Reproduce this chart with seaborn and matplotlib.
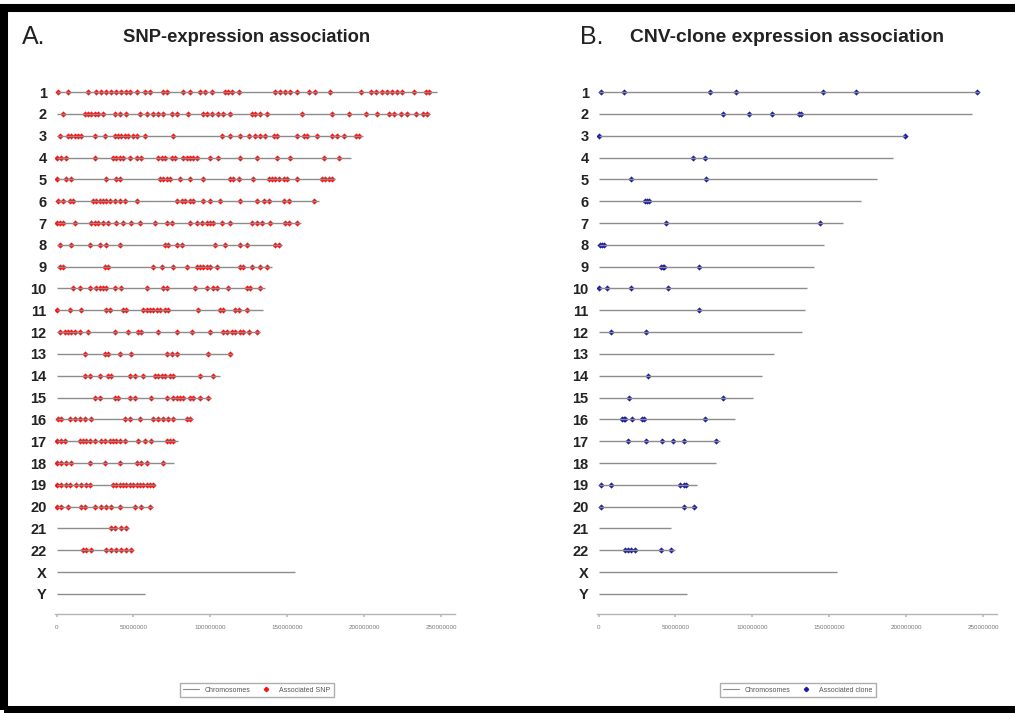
import numpy as np
import pandas as pd
import seaborn as sns
import matplotlib
matplotlib.use("Agg")
import matplotlib.pyplot as plt
from matplotlib.lines import Line2D
from matplotlib.patches import Rectangle
from matplotlib.ticker import FixedLocator, FuncFormatter

sns.set_theme(style="white")
plt.rcParams["font.family"] = ["Liberation Sans Narrow", "Liberation Sans", "DejaVu Sans"]

# Chromosome names and lengths (Mb)
chromosomes = [str(i) for i in range(1, 23)] + ["X", "Y"]
chrom_length_mb = [247.2, 242.8, 199.5, 191.3, 180.9, 170.9, 158.8, 146.3, 140.3, 135.4,
                   134.5, 132.3, 114.1, 106.4, 100.3, 88.8, 78.8, 76.1, 63.8, 62.4,
                   46.9, 49.7, 154.9, 57.8]

# Positions (Mb) of SNPs associated with expression, per chromosome
snp_mb = {
    "1": [0.9, 7.4, 20.4, 25.9, 29.1, 32.4, 35.7, 38.9, 42.2, 45.4, 47.6, 52.0, 57.4, 60.7,
          69.4, 71.5, 82.4, 86.7, 93.3, 96.5, 100.9, 109.6, 111.7, 113.9, 118.3, 142.2, 145.4,
          148.7, 152.0, 156.3, 163.9, 168.3, 178.0, 197.6, 204.1, 207.4, 211.7, 215.0, 218.3,
          221.5, 224.8, 232.4, 240.0, 242.2],
    "2": [4.1, 18.3, 20.4, 22.6, 24.8, 27.0, 30.2, 37.8, 41.1, 45.4, 54.1, 58.5, 62.8, 66.1,
          69.4, 74.8, 78.1, 85.7, 95.4, 97.6, 100.9, 105.2, 108.5, 112.8, 127.0, 129.1, 132.4,
          136.7, 159.6, 179.1, 190.0, 200.9, 208.5, 216.1, 219.4, 223.7, 228.1, 233.5, 238.0, 241.0],
    "3": [2.0, 7.4, 9.6, 11.7, 13.9, 16.1, 24.8, 31.3, 37.8, 40.0, 42.2, 44.4, 46.5, 49.8, 52.0,
          57.4, 75.9, 107.4, 112.8, 119.4, 124.8, 129.1, 132.4, 135.7, 141.1, 143.3, 156.3, 160.7,
          162.8, 169.4, 179.1, 182.4, 186.8, 194.4, 196.5],
    "4": [0.5, 3.1, 6.3, 24.8, 36.8, 38.9, 41.1, 43.3, 47.6, 52.0, 55.2, 66.1, 68.3, 70.4, 74.8,
          77.0, 82.4, 84.6, 86.7, 88.9, 91.1, 99.8, 105.2, 119.4, 130.2, 143.3, 152.0, 173.7, 183.5],
    "5": [0.5, 6.3, 9.6, 32.4, 38.9, 41.1, 67.2, 69.4, 71.5, 73.7, 80.2, 86.7, 95.4, 112.8, 115.0,
          118.3, 128.0, 137.8, 140.0, 142.2, 144.4, 147.6, 149.8, 156.3, 172.6, 174.8, 177.0, 179.1],
    "6": [0.9, 4.1, 8.5, 10.7, 23.7, 25.9, 28.0, 30.2, 32.4, 34.6, 37.8, 41.1, 44.4, 52.0, 78.1,
          81.3, 83.5, 86.7, 88.9, 95.4, 99.8, 106.3, 119.4, 130.2, 134.6, 137.8, 147.6, 150.9, 167.2],
    "7": [0.5, 2.0, 4.1, 11.7, 22.6, 24.8, 27.0, 30.2, 33.5, 38.9, 43.3, 48.7, 54.1, 63.9, 71.5,
          74.8, 86.7, 91.1, 94.4, 97.6, 99.8, 102.0, 107.4, 112.8, 127.0, 130.2, 133.5, 138.9,
          148.7, 150.9, 156.3],
    "8": [2.0, 9.6, 21.5, 28.0, 32.4, 41.1, 70.4, 72.6, 78.1, 81.3, 103.0, 109.6, 119.4, 123.7,
          142.2, 144.4],
    "9": [2.0, 4.1, 31.3, 33.5, 62.8, 68.3, 75.9, 84.6, 91.1, 93.3, 95.4, 97.6, 99.8, 104.1,
          119.4, 121.5, 127.0, 132.4, 136.7],
    "10": [10.7, 15.0, 21.5, 25.9, 28.0, 30.2, 32.4, 37.8, 42.2, 58.5, 69.4, 71.5, 90.0, 97.6,
           102.0, 104.1, 111.7, 123.7, 125.9, 132.4],
    "11": [0.5, 8.5, 16.1, 32.4, 34.6, 43.3, 45.4, 56.3, 58.5, 60.7, 62.8, 65.0, 67.2, 70.4,
           72.6, 92.2, 106.3, 108.5, 116.1, 118.3, 123.7],
    "12": [2.0, 5.2, 7.4, 9.6, 11.7, 15.0, 20.4, 37.8, 46.5, 53.1, 55.2, 66.1, 78.1, 87.8, 99.8,
           108.5, 110.7, 113.9, 116.1, 119.4, 121.5, 124.8, 130.2],
    "13": [18.3, 31.3, 33.5, 41.1, 48.7, 71.5, 74.8, 78.1, 98.7, 112.8],
    "14": [18.3, 21.5, 28.0, 33.5, 35.7, 47.6, 50.9, 56.3, 63.9, 66.1, 68.3, 70.4, 73.7, 75.9,
           93.3, 101.9],
    "15": [24.8, 28.0, 37.8, 40.0, 47.6, 50.9, 61.7, 71.5, 75.9, 78.1, 80.2, 82.4, 86.7, 88.9,
           93.3, 98.7],
    "16": [0.9, 3.1, 8.5, 11.7, 15.0, 18.3, 22.6, 44.4, 47.6, 54.1, 62.8, 66.1, 69.4, 72.6,
           75.9, 84.6, 86.7],
    "17": [0.5, 3.1, 5.2, 15.0, 17.2, 19.4, 21.5, 24.8, 29.1, 31.3, 34.6, 36.8, 38.9, 41.1,
           44.4, 53.1, 57.4, 61.7, 71.5, 73.7, 75.9],
    "18": [0.5, 3.1, 6.3, 9.6, 21.5, 31.3, 41.1, 52.0, 55.2, 58.5, 69.4],
    "19": [0.5, 3.1, 6.3, 8.5, 12.8, 16.1, 19.4, 21.5, 36.8, 38.9, 41.1, 43.3, 45.4, 47.6,
           49.8, 52.0, 54.1, 56.3, 58.5, 60.7, 62.8],
    "20": [0.5, 3.1, 7.4, 16.1, 18.3, 24.8, 29.1, 32.4, 35.7, 41.1, 50.9, 55.2, 60.7],
    "21": [35.7, 37.8, 42.2, 45.4],
    "22": [17.2, 19.4, 22.6, 32.4, 35.7, 38.9, 42.2, 45.4, 48.7],
}

# Positions (Mb) of CNV clones associated with expression, per chromosome
clone_mb = {
    "1": [1.3, 16.4, 72.3, 89.4, 145.7, 167.1, 245.9],
    "2": [80.7, 97.6, 113.0, 130.1, 131.8],
    "3": [0.2, 199.3],
    "4": [61.5, 69.0],
    "5": [21.4, 69.9],
    "6": [30.5, 31.6, 32.7],
    "7": [44.0, 143.7],
    "8": [0.8, 2.4, 3.4],
    "9": [40.7, 42.0, 42.8, 65.1],
    "10": [0.2, 5.6, 20.8, 45.2],
    "11": [65.6],
    "12": [8.2, 31.1],
    "14": [32.0],
    "15": [19.7, 80.9],
    "16": [15.3, 16.4, 17.5, 21.8, 28.3, 29.4, 69.0],
    "17": [19.0, 31.1, 41.3, 48.2, 55.4, 76.6],
    "19": [1.3, 8.4, 53.2, 55.4, 56.9],
    "20": [1.3, 55.4, 62.2],
    "22": [16.9, 19.0, 20.8, 24.0, 40.9, 47.2],
}

x_ticks = [0, 50000000, 100000000, 150000000, 200000000, 250000000]

row_of = {c: i for i, c in enumerate(chromosomes)}
chrom_df = pd.DataFrame({"chrom": chromosomes,
                         "length": np.array(chrom_length_mb) * 1e6})
chrom_df["row"] = chrom_df["chrom"].map(row_of)


def to_frame(positions):
    rows = [(c, p * 1e6) for c, ps in positions.items() for p in ps]
    df = pd.DataFrame(rows, columns=["chrom", "pos"])
    df["row"] = df["chrom"].map(row_of)
    return df


snp_df = to_frame(snp_mb)
clone_df = to_frame(clone_mb)

W, H = 1015, 713
fig = plt.figure(figsize=(W / 100, H / 100), dpi=100)
fig.patch.set_facecolor("white")

line_col = "#8c8c8c"


def draw_panel(left_px, points, mark_col, legend_label, legend_center_px):
    ax = fig.add_axes([left_px / W, (H - 614) / H, 400 / W, 535 / H])
    ax.set_facecolor("white")
    sns.scatterplot(data=points, x="pos", y="row", ax=ax, marker="D", s=10,
                    color=mark_col, linewidth=0, zorder=2, legend=False)
    ax.hlines(chrom_df["row"], 0, chrom_df["length"], color=line_col,
              linewidth=1.0, zorder=3)
    ax.set_xlim(-1e6, 259e6)
    ax.set_ylim(23.92, -0.6)
    ax.set_xlabel("")
    ax.set_ylabel("")
    ax.set_yticks(range(len(chromosomes)))
    ax.set_yticklabels(chromosomes, fontsize=10.5, fontweight="bold", color="#222222")
    ax.xaxis.set_major_locator(FixedLocator(x_ticks))
    ax.xaxis.set_major_formatter(FuncFormatter(lambda v, _: f"{int(v)}"))
    ax.tick_params(axis="y", length=0, pad=6)
    ax.tick_params(axis="x", length=2, color="#bbbbbb", pad=6, labelsize=4.5,
                   labelcolor="#777777", bottom=True)
    for side in ("top", "right", "left"):
        ax.spines[side].set_visible(False)
    ax.spines["bottom"].set_color("#b5b5b5")
    ax.spines["bottom"].set_linewidth(1.0)

    handles = [Line2D([], [], color=line_col, linewidth=0.8),
               Line2D([], [], color=mark_col, marker="D", markersize=2.2, linestyle="none")]
    fig.legend(handles, ["Chromosomes", legend_label], loc="center",
               bbox_to_anchor=(legend_center_px / W, (H - 690) / H), ncol=2,
               fontsize=5, frameon=True, fancybox=False, edgecolor="#999999",
               handlelength=2.2, columnspacing=1.2, borderpad=0.5, labelcolor="#555555")
    return ax


draw_panel(55, snp_df, "#ff1010", "Associated SNP", 257)
draw_panel(597, clone_df, "#1a1aa8", "Associated clone", 798)

# Panel letters and titles
fig.text(22 / W, 1 - 37 / H, "A.", fontsize=18, va="center", ha="left", color="#222222")
fig.text(123 / W, 1 - 37 / H, "SNP-expression association", fontsize=13.2,
         fontweight="bold", va="center", ha="left", color="#222222")
fig.text(580 / W, 1 - 37 / H, "B.", fontsize=18, va="center", ha="left", color="#222222")
fig.text(630 / W, 1 - 37 / H, "CNV-clone expression association", fontsize=13.9,
         fontweight="bold", va="center", ha="left", color="#222222")

# Heavy black frame on top, left and bottom edges
fig.patches.append(Rectangle((4 / W, 3.5 / H), 1.1, 1 - 11.5 / H,
                             transform=fig.transFigure, fill=False,
                             edgecolor="black", linewidth=5.8, clip_on=False))

fig.savefig("out.png", dpi=100, facecolor="white")
